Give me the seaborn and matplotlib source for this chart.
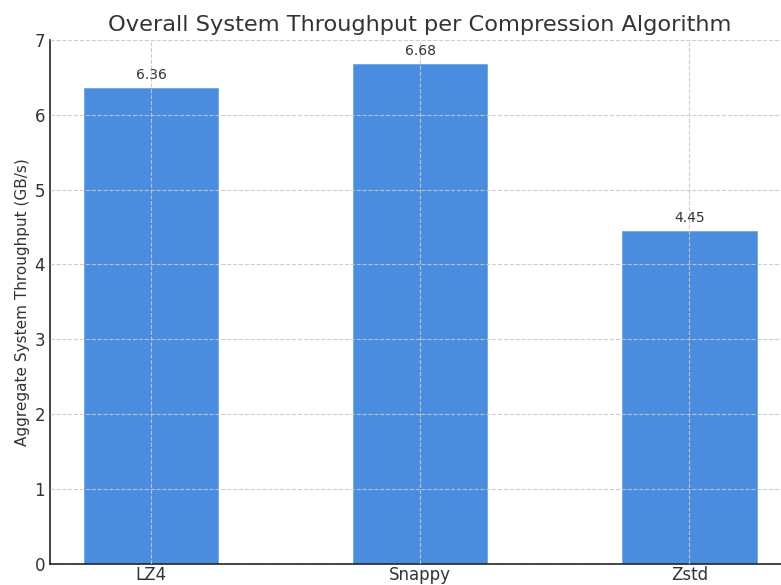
import matplotlib
matplotlib.use("Agg")
import matplotlib.pyplot as plt
import seaborn as sns
import pandas as pd

algorithms = ["LZ4", "Snappy", "Zstd"]
throughput = [6.36, 6.68, 4.45]
y_ticks = [0, 1, 2, 3, 4, 5, 6, 7]

df = pd.DataFrame({"Algorithm": algorithms, "Throughput": throughput})

sns.set_theme(style="white")
plt.rcParams["font.family"] = ["DejaVu Sans"]

fig = plt.figure(figsize=(7.81, 5.85), dpi=100)
# axes run slightly past the right edge, as in the reference crop
ax = fig.add_axes([0.064, 0.036, 0.948, 0.896])

sns.barplot(data=df, x="Algorithm", y="Throughput", color="#4a8ddf",
            width=0.5, saturation=1, edgecolor="#6fa5e6", linewidth=0.6, ax=ax)

for i, v in enumerate(throughput):
    ax.text(i, v + 0.08, f"{v:.2f}", ha="center", va="bottom", fontsize=10, color="#333333")

ax.set_xlim(-0.375, 2.375)
ax.set_ylim(0, 7)
ax.set_yticks(y_ticks)
ax.set_axisbelow(False)
ax.grid(True, linestyle="--", color="#c8c8c8", linewidth=0.8, alpha=0.9)

ax.set_title("Overall System Throughput per Compression Algorithm", fontsize=16.2, color="#333333", pad=6)
ax.set_xlabel("")
ax.set_ylabel("Aggregate System Throughput (GB/s)", fontsize=11, color="#333333", labelpad=3)
ax.tick_params(axis="both", direction="in", length=4, labelsize=12, colors="#333333")
ax.tick_params(axis="x", pad=1.5)

for side in ["top", "right"]:
    ax.spines[side].set_visible(False)
for side in ["left", "bottom"]:
    ax.spines[side].set_color("#222222")
    ax.spines[side].set_linewidth(1.2)

fig.savefig("out.png", dpi=100)
